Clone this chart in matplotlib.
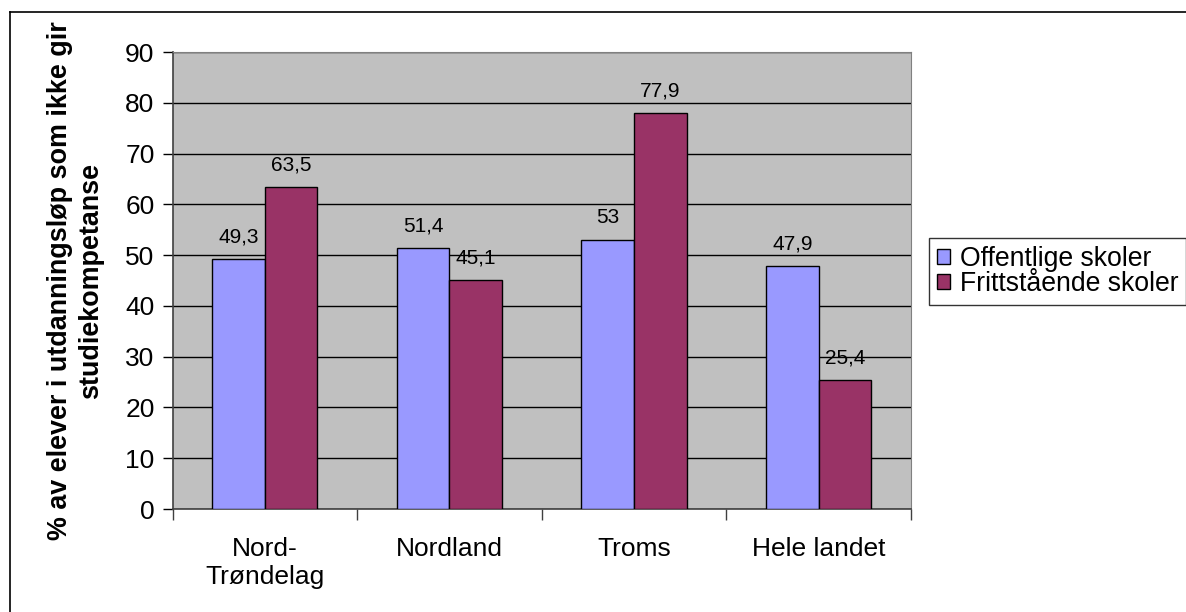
import matplotlib.pyplot as plt
import numpy as np
from matplotlib.lines import Line2D

plt.rcParams['font.family'] = ['Liberation Sans', 'DejaVu Sans']

# Data
regions = ['Nord-\nTrøndelag', 'Nordland', 'Troms', 'Hele landet']
offentlige = [49.3, 51.4, 53, 47.9]
frittstaende = [63.5, 45.1, 77.9, 25.4]
series_names = ['Offentlige skoler', 'Frittstående skoler']
colors = ['#9999FF', '#993366']

fig = plt.figure(figsize=(11.86, 6.12), dpi=100)
ax = fig.add_axes([0.1455, 0.1683, 0.6225, 0.7467])
ax.set_facecolor('#C0C0C0')

x = np.arange(len(regions))
w = 0.285
b1 = ax.bar(x - w / 2, offentlige, w, color=colors[0], edgecolor='black', linewidth=1, zorder=3, label=series_names[0])
b2 = ax.bar(x + w / 2, frittstaende, w, color=colors[1], edgecolor='black', linewidth=1, zorder=3, label=series_names[1])

def fmt(v):
    return ('%g' % v).replace('.', ',')

for bars, vals in [(b1, offentlige), (b2, frittstaende)]:
    for bar, v in zip(bars, vals):
        ax.annotate(fmt(v), (bar.get_x() + bar.get_width() / 2, v), xytext=(0, 9),
                    textcoords='offset points', ha='center', va='bottom', fontsize=15)

ax.set_ylim(0, 90)
ax.set_xlim(-0.5, len(regions) - 0.5)
ax.set_yticks(range(0, 91, 10))
ax.yaxis.grid(True, color='black', linewidth=1, zorder=1)
ax.set_axisbelow(True)
ax.tick_params(axis='y', direction='out', length=7, width=1, labelsize=19, pad=6)

ax.set_xticks(x)
ax.set_xticklabels(regions, fontsize=19)
ax.tick_params(axis='x', length=0, pad=20)
ax.set_xticks(np.arange(-0.5, len(regions), 1), minor=True)
ax.tick_params(axis='x', which='minor', direction='out', length=8, width=1, color='#404040')

for s in ['top', 'right']:
    ax.spines[s].set_color('#808080')
for s in ['left', 'bottom']:
    ax.spines[s].set_color('#404040')
    ax.spines[s].set_linewidth(1.2)

ax.set_ylabel('% av elever i utdanningsløp som ikke gir\nstudiekompetanse', fontsize=19.4,
              fontweight='bold', labelpad=15, linespacing=1.25)

leg = ax.legend(loc='upper left', bbox_to_anchor=(929 / 1186, 1 - 238 / 612),
                bbox_transform=fig.transFigure, fontsize=19.2, frameon=True, fancybox=False,
                handlelength=0.5, handleheight=0.5, handletextpad=0.35, borderpad=0.3,
                labelspacing=-0.05, borderaxespad=0)
leg.get_frame().set_edgecolor('black')
leg.get_frame().set_linewidth(1)

# outer chart frame (left and top edges visible)
fig.add_artist(Line2D([10 / 1186, 10 / 1186], [0, 1 - 12 / 612], color='black', lw=1.2, transform=fig.transFigure))
fig.add_artist(Line2D([10 / 1186, 1], [1 - 12 / 612, 1 - 12 / 612], color='black', lw=1.2, transform=fig.transFigure))

fig.savefig('out.png', dpi=100)
